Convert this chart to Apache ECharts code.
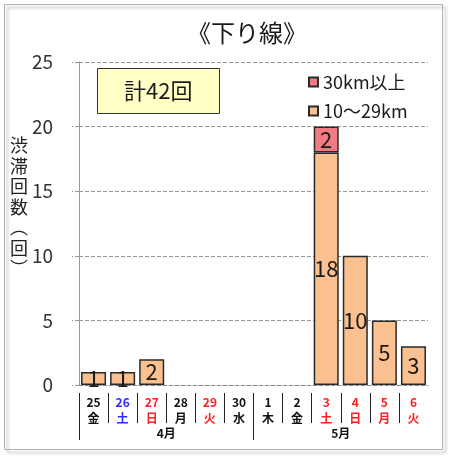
<!DOCTYPE html>
<html>
<head>
<meta charset="utf-8">
<script src="https://cdn.jsdelivr.net/npm/echarts@6/dist/echarts.min.js"></script>
<style>
  html, body { margin: 0; padding: 0; background: #fff; }
  #chart { width: 450px; height: 457px; }
</style>
</head>
<body>
<div id="chart"></div>
<script>
// 下り線 渋滞回数（日別）
const days = ['25', '26', '27', '28', '29', '30', '1', '2', '3', '4', '5', '6']
const weekdays = ['金', '土', '日', '月', '火', '水', '木', '金', '土', '日', '月', '火']
const dayColors = ['k', 'b', 'r', 'k', 'r', 'k', 'k', 'k', 'r', 'r', 'r', 'r']
const months = ['4月', '5月']
const monthStart = [0, 6]   // 各月の最初の日の位置
const mid = [1, 1, 2, null, null, null, null, null, 18, 10, 5, 3]     // 10～29km
const long = [null, null, null, null, null, null, null, null, 2, null, null, null] // 30km以上
const yTicks = [0, 5, 10, 15, 20, 25]

const FONT = '"Noto Sans CJK JP", sans-serif'
const colorOf = { k: '#111', b: '#2b2bff', r: '#ff1e1e' }

const rich = {}
Object.keys(colorOf).forEach(k => {
  rich['n' + k] = { color: colorOf[k], fontSize: 12, fontWeight: 'bold', fontFamily: FONT, lineHeight: 16 }
  rich['w' + k] = { color: colorOf[k], fontSize: 12, fontWeight: 'bold', fontFamily: FONT, lineHeight: 16 }
})

// 日の区切り（月の区切りは長い線で別に描く）
const dayBounds = days.map((d, i) => i).filter(i => !monthStart.includes(i))
const monthMids = monthStart.map((s, i) => (s + (monthStart[i + 1] ?? days.length)) / 2)

const chart = echarts.init(document.getElementById('chart'))

const barLabel = {
  show: true,
  position: 'inside',
  fontSize: 22,
  color: '#1a1a1a',
  fontFamily: FONT
}

chart.setOption({
  backgroundColor: '#fff',
  animation: false,
  textStyle: { fontFamily: FONT },
  title: [
    {
      text: '《下り線》',
      left: 182,
      top: 16,
      textStyle: { fontSize: 24, fontWeight: 'normal', color: '#1a1a1a', fontFamily: FONT }
    },
    {
      text: '計42回',
      left: 97,
      top: 68,
      padding: [12, 27],
      backgroundColor: '#FFFFC6',
      borderColor: '#333',
      borderWidth: 1,
      textStyle: { fontSize: 22, fontWeight: 'normal', color: '#1a1a1a', fontFamily: FONT }
    }
  ],
  legend: {
    data: ['30km以上', '10～29km'],
    orient: 'vertical',
    left: 303,
    top: 68,
    itemWidth: 9,
    itemHeight: 9,
    itemGap: 11,
    icon: 'rect',
    textStyle: { fontSize: 18, color: '#1a1a1a', fontFamily: FONT }
  },
  grid: { left: 79, right: 22, top: 62, bottom: 72 },
  xAxis: [
    {
      type: 'category',
      data: days,
      axisLine: { show: true, lineStyle: { color: '#888', type: 'dashed' } },
      axisTick: { show: false },
      axisLabel: {
        margin: 9,
        interval: 0,
        formatter: (v, i) => `{n${dayColors[i]}|${v}}\n{w${dayColors[i]}|${weekdays[i]}}`,
        rich
      }
    },
    {
      type: 'value',
      min: 0,
      max: days.length,
      position: 'bottom',
      offset: 8,
      axisLine: { show: false },
      splitLine: { show: false },
      axisTick: { show: true, length: 30, customValues: dayBounds, lineStyle: { color: '#222', width: 1 } },
      axisLabel: { show: false }
    },
    {
      type: 'value',
      min: 0,
      max: days.length,
      position: 'bottom',
      offset: 8,
      axisLine: { show: false },
      splitLine: { show: false },
      axisTick: { show: true, length: 47, customValues: monthStart, lineStyle: { color: '#222', width: 1 } },
      axisLabel: {
        margin: 34,
        customValues: monthMids,
        formatter: v => months[monthMids.indexOf(v)],
        fontSize: 12,
        fontWeight: 'bold',
        color: '#111',
        fontFamily: FONT
      }
    }
  ],
  yAxis: {
    type: 'value',
    min: yTicks[0],
    max: yTicks[yTicks.length - 1],
    interval: 5,
    axisLine: { show: true, lineStyle: { color: '#999' } },
    axisTick: { show: true, length: 7, lineStyle: { color: '#999', type: 'dashed' } },
    axisLabel: { fontSize: 19, color: '#333', margin: 26, fontFamily: FONT },
    splitLine: { show: true, lineStyle: { color: '#999', type: 'dashed' } }
  },
  series: [
    {
      name: '10～29km',
      type: 'bar',
      stack: 'total',
      data: mid,
      barWidth: '86%',
      itemStyle: { color: '#FAC090', borderColor: '#2a2a2a', borderWidth: 1.5 },
      label: barLabel
    },
    {
      name: '30km以上',
      type: 'bar',
      stack: 'total',
      data: long,
      barWidth: '86%',
      itemStyle: { color: '#F27A82', borderColor: '#2a2a2a', borderWidth: 1.5 },
      label: barLabel
    }
  ],
  graphic: [
    {
      type: 'rect',
      left: 2,
      top: 2,
      shape: { width: 438, height: 445 },
      style: {
        fill: 'none',
        stroke: '#b0b0b0',
        lineWidth: 1,
        shadowBlur: 3,
        shadowOffsetX: 3,
        shadowOffsetY: 3,
        shadowColor: 'rgba(0,0,0,0.35)'
      },
      silent: true,
      z: -1
    },
    {
      type: 'text',
      left: 10,
      top: 135,
      style: {
        text: '渋\n滞\n回\n数\n︵\n回\n︶',
        fontSize: 18,
        lineHeight: 20.5,
        fill: '#222',
        fontFamily: FONT
      },
      silent: true
    }
  ]
})
</script>
</body>
</html>
